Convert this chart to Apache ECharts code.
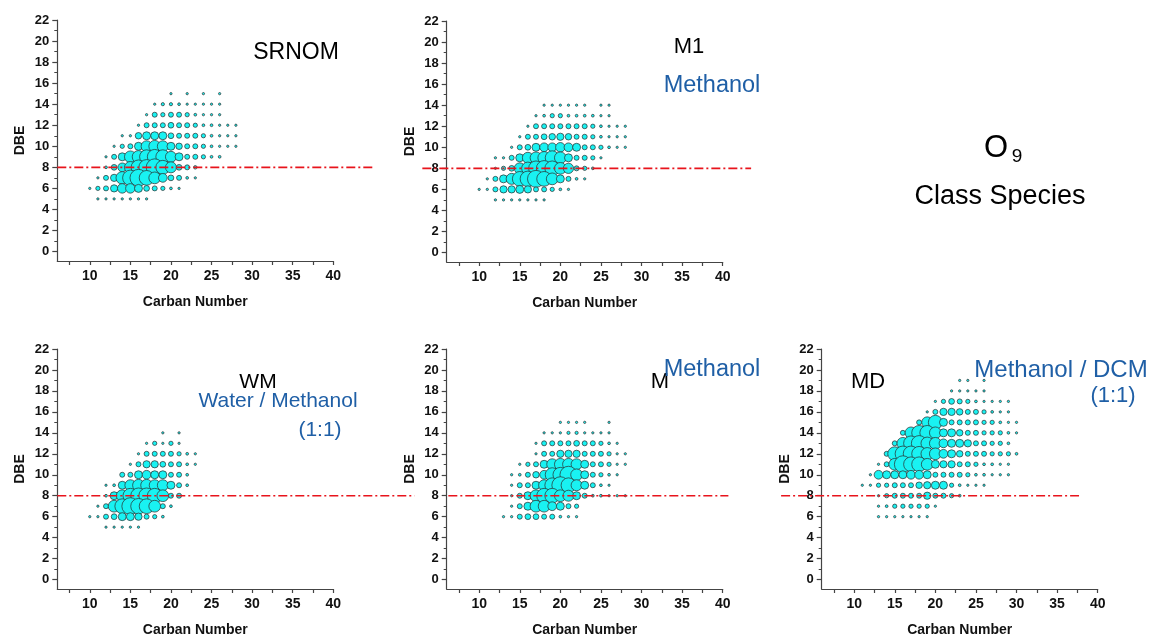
<!DOCTYPE html>
<html><head><meta charset="utf-8">
<script src="https://cdn.jsdelivr.net/npm/echarts@6/dist/echarts.min.js"></script>
<style>html,body{margin:0;background:#fff}#c{width:1149px;height:638px}</style>
</head><body><div id="c"></div>
<script>
// ---- data (relative abundance per CcHhO9 species; rows = [DBE, first carbon, values...]) ----
const CARBON_TICKS = [10, 15, 20, 25, 30, 35, 40];
const CARBON_MINOR = [7.5, 12.5, 17.5, 22.5, 27.5, 32.5, 37.5];
const DBE_TICKS = [0, 2, 4, 6, 8, 10, 12, 14, 16, 18, 20, 22];
const DBE_MINOR = [1, 3, 5, 7, 9, 11, 13, 15, 17, 19, 21];
const DBE_REF = 8;

const srnomRows = [
  [15, 20, [2,0,2,0,2,0,2]],
  [14, 18, [2,8,8,5,2,2,2,2,2]],
  [13, 17, [2,20,15,20,20,15,5,2,2,2]],
  [12, 16, [2,20,20,20,25,20,20,15,5,5,2,2,2]],
  [11, 14, [2,2,30,40,40,40,25,20,20,20,15,5,2,2,2]],
  [10, 13, [2,15,20,40,60,65,60,40,30,20,20,15,5,2,2,2]],
  [9, 12, [2,20,40,65,70,80,85,80,60,40,20,20,15,5,5]],
  [8, 12, [5,25,45,65,85,90,100,80,60,25,20,10]],
  [7, 11, [2,20,35,70,90,100,85,65,45,25,20,5,2]],
  [6, 10, [2,15,20,35,50,50,40,25,20,15,5,2]],
  [5, 11, [2,2,2,2,2,2,2]]
];
const m1Rows = [
  [14, 18, [2,2,2,2,2,2,0,2,2]],
  [13, 17, [2,5,15,15,5,5,5,5,2,2]],
  [12, 16, [2,20,20,20,20,20,20,20,15,5,2,2,2]],
  [11, 15, [2,20,20,25,30,35,30,20,20,15,5,2,2,2]],
  [10, 14, [2,20,25,40,45,45,50,45,40,20,20,15,5,2,2]],
  [9, 12, [2,2,20,40,60,65,70,80,65,40,20,20,15,2]],
  [8, 12, [2,15,25,60,70,85,90,85,65,55,20,15,5]],
  [7, 11, [2,20,40,60,85,90,100,85,65,40,20,5,2]],
  [6, 10, [2,2,20,35,35,40,35,20,20,15,5,2]],
  [5, 12, [2,2,2,2,2,2,2]]
];
const wmRows = [
  [14, 19, [2,0,2]],
  [13, 17, [2,15,2,15,2]],
  [12, 16, [2,20,20,20,20,15,5,2]],
  [11, 15, [2,20,35,35,25,20,20,5,2]],
  [10, 14, [20,20,40,45,40,40,20,20,5]],
  [9, 12, [2,5,40,60,65,65,60,60,40,20,5]],
  [8, 12, [5,40,65,85,90,90,85,65,20,20]],
  [7, 11, [2,20,65,85,100,90,85,65,20,5]],
  [6, 10, [2,2,20,25,40,40,35,20,15,5]],
  [5, 12, [2,2,2,2,2]]
];
const mRows = [
  [15, 20, [2,2,2,2,0,0,2]],
  [14, 18, [2,2,2,8,8,2,2,2,2]],
  [13, 17, [2,20,20,20,20,25,20,20,15,5,2]],
  [12, 17, [2,20,20,35,35,35,20,20,20,15,2,2]],
  [11, 15, [2,15,20,40,60,65,65,60,40,20,20,15,2,2]],
  [10, 14, [2,5,20,30,45,80,85,100,65,40,20,15,5,2]],
  [9, 14, [2,20,20,40,60,85,100,85,60,40,20,5,2]],
  [8, 14, [2,20,40,65,85,85,65,60,40,20,5,5,2,2,2]],
  [7, 14, [2,20,40,65,65,45,40,20,15]],
  [6, 13, [2,2,20,25,25,20,20,5,2,2]]
];
const mdRows = [
  [19, 23, [2,2,0,2]],
  [18, 22, [2,2,2,2,2]],
  [17, 20, [2,15,25,20,15,5,2,2,2,2]],
  [16, 19, [2,20,35,35,30,20,20,15,5,2,2]],
  [15, 18, [20,60,80,40,20,20,20,20,15,15,5,2,2]],
  [14, 16, [20,65,85,85,65,40,40,30,20,20,15,15,15,5,2]],
  [13, 15, [20,65,85,90,70,65,45,40,40,35,20,20,15,15,5]],
  [12, 14, [20,80,90,90,85,70,65,45,40,30,20,20,20,15,15,15,5]],
  [11, 13, [2,20,65,100,85,85,65,40,35,35,20,20,15,5,5,2,2]],
  [10, 12, [2,45,40,40,40,45,45,40,20,20,20,20,15,5,5,2,2,2]],
  [9, 11, [2,2,15,15,20,20,20,30,35,40,40,15,5,2,2,2]],
  [8, 13, [2,15,20,20,20,20,35,20,20,15,5]],
  [7, 13, [2,5,15,15,15,15,15,2]],
  [6, 13, [2,2,2,2,2,2,2]]
];
// carbon-number span of each DBE = 8 reference line
const refSpans = [[6, 45], [3, 43.5], [6, 50], [6.2, 40.7], [1, 37.7]];

// ---- chart ----
const FONT = '"Liberation Sans", Arial, sans-serif';
function expand(rows) {
  const out = [];
  rows.forEach(r => r[2].forEach((v, i) => { if (v > 0) out.push([r[1] + i, r[0], v]); }));
  return out;
}
const panels = [
  { rows: srnomRows, left: 57.3, top: 20 },
  { rows: m1Rows, left: 446.7, top: 21 },
  { rows: wmRows, left: 57.3, top: 349 },
  { rows: mRows, left: 446.7, top: 349 },
  { rows: mdRows, left: 821.7, top: 349 }
];
const grid = [], xAxis = [], yAxis = [], series = [];
const axisColor = '#444';
panels.forEach((p, i) => {
  grid.push({ left: p.left, top: p.top, width: 276, height: 241 });
  xAxis.push({
    gridIndex: i, type: 'value', min: 6, max: 40, position: 'bottom',
    axisLine: { show: true, onZero: false, lineStyle: { color: axisColor, width: 1.2 } },
    axisTick: { show: true, customValues: CARBON_TICKS, length: 4, lineStyle: { color: axisColor, width: 1.2 } },
    axisLabel: { customValues: CARBON_TICKS, fontFamily: FONT, fontWeight: 'bold', fontSize: 14, color: '#111', margin: 8 },
    splitLine: { show: false },
    name: 'Carban Number', nameLocation: 'middle', nameGap: 34,
    nameTextStyle: { fontFamily: FONT, fontWeight: 'bold', fontSize: 14, color: '#111' }
  });
  xAxis.push({
    gridIndex: i, type: 'value', min: 6, max: 40, position: 'bottom',
    axisLine: { show: false, onZero: false },
    axisTick: { show: true, customValues: CARBON_MINOR, length: 4, lineStyle: { color: axisColor, width: 1.2 } },
    axisLabel: { show: false }, splitLine: { show: false }
  });
  yAxis.push({
    gridIndex: i, type: 'value', min: -0.9, max: 22, position: 'left',
    axisLine: { show: true, onZero: false, lineStyle: { color: axisColor, width: 1.2 } },
    axisTick: { show: true, customValues: DBE_TICKS, length: 5, lineStyle: { color: axisColor, width: 1.2 } },
    axisLabel: { customValues: DBE_TICKS, fontFamily: FONT, fontWeight: 'bold', fontSize: 13, color: '#111', margin: 8 },
    splitLine: { show: false },
    name: 'DBE', nameLocation: 'middle', nameGap: 30, nameRotate: 90,
    nameTextStyle: { fontFamily: FONT, fontWeight: 'bold', fontSize: 14, color: '#111' }
  });
  yAxis.push({
    gridIndex: i, type: 'value', min: -0.9, max: 22, position: 'left',
    axisLine: { show: false, onZero: false },
    axisTick: { show: true, customValues: DBE_MINOR, length: 3, lineStyle: { color: axisColor, width: 1 } },
    axisLabel: { show: false }, splitLine: { show: false }
  });
  series.push({
    type: 'scatter', xAxisIndex: 2 * i, yAxisIndex: 2 * i,
    data: expand(p.rows),
    symbolSize: d => 2 + d[2] * 0.15,
    itemStyle: { color: '#19f2f2', borderColor: '#2a2a2a', borderWidth: 0.7, opacity: 1 },
    z: 3, silent: true
  });
});

const BLUE = '#1f5fa6';
function txt(x, y, text, size, color) {
  return { type: 'text', x: x, y: y, z: 10,
    style: { text: text, fill: color || '#000', font: size + 'px ' + FONT, align: 'center', verticalAlign: 'middle' } };
}
const texts = [
  txt(296, 53, 'SRNOM', 23),
  txt(689, 47, 'M1', 22),
  txt(712, 86, 'Methanol', 23.5, BLUE),
  txt(996, 148, 'O', 31),
  txt(1017, 157, '9', 19),
  txt(1000, 197, 'Class Species', 27),
  txt(258, 382, 'WM', 21),
  txt(278, 401, 'Water / Methanol', 21, BLUE),
  txt(320, 430, '(1:1)', 21, BLUE),
  txt(660, 382, 'M', 22),
  txt(712, 370, 'Methanol', 23.5, BLUE),
  txt(868, 382, 'MD', 22),
  txt(1061, 370, 'Methanol / DCM', 24, BLUE),
  txt(1113, 396, '(1:1)', 22, BLUE)
];

const chart = echarts.init(document.getElementById('c'), null, { renderer: 'canvas' });
chart.setOption({ animation: false, backgroundColor: '#fff', grid, xAxis, yAxis, series });

// DBE = 8 reference lines, positioned through each panel's own axis scales
const refLines = refSpans.map((s, i) => {
  const finder = { xAxisIndex: 2 * i, yAxisIndex: 2 * i };
  const a = chart.convertToPixel(finder, [s[0], DBE_REF]);
  const b = chart.convertToPixel(finder, [s[1], DBE_REF]);
  return { type: 'line', z: 20, silent: true,
    shape: { x1: a[0], y1: a[1], x2: b[0], y2: b[1] },
    style: { stroke: '#e8141c', lineWidth: 1.6, lineDash: [9, 3, 2, 3] } };
});
chart.setOption({ graphic: texts.concat(refLines) });
</script></body></html>
